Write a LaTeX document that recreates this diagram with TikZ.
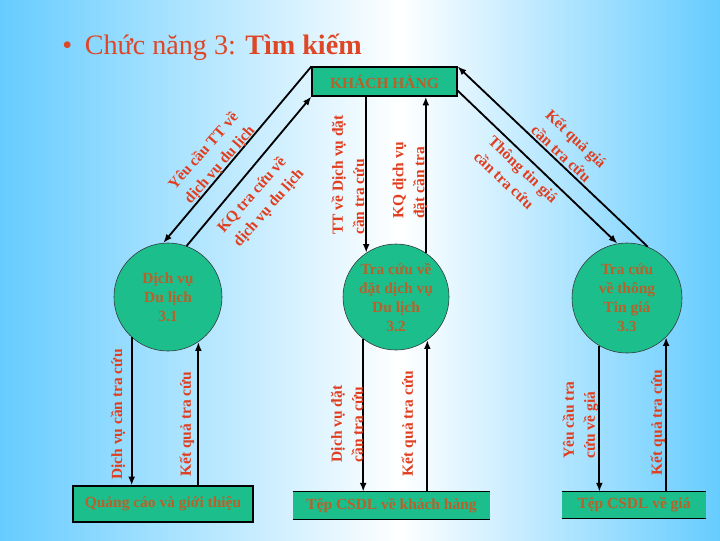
\documentclass[tikz,border=0pt]{standalone}
\usepackage{fontspec}
\setmainfont{Liberation Serif}
\usepackage{xcolor}
\usetikzlibrary{arrows.meta,calc,positioning}
\definecolor{bgblue}{RGB}{102,204,255}
\definecolor{boxgreen}{RGB}{28,190,140}
\definecolor{titlered}{RGB}{222,70,38}
\definecolor{labelred}{RGB}{224,62,30}
\definecolor{textbrown}{RGB}{184,98,42}

\begin{document}
\begin{tikzpicture}[x=0.025cm,y=-0.025cm,>={Latex[length=2.2mm,width=1.7mm]},
  proc/.style={circle,draw=black!80,fill=boxgreen,inner sep=0pt,align=center,
    font=\bfseries\fontsize{11}{13.5}\selectfont,text=textbrown},
  ext/.style={draw=black,fill=boxgreen,thick,inner sep=0pt,
    font=\bfseries\fontsize{11}{13}\selectfont,text=textbrown},
  store/.style={fill=boxgreen,inner sep=0pt,
    font=\bfseries\fontsize{11}{13}\selectfont,text=textbrown},
  flow/.style={line width=1.3pt,->},
  lbl/.style={text=labelred,font=\bfseries\fontsize{11}{15}\selectfont,align=left,inner sep=0pt}]
% ---------- nen ----------
\shade[left color=bgblue,right color=white] (0,0) rectangle (400,540);
\shade[left color=white,right color=bgblue] (400,0) rectangle (720,540);
\useasboundingbox (0,0) rectangle (720,540);
\node[anchor=base west,text=titlered,font=\fontsize{20}{24}\selectfont,inner sep=0pt]
  (title) at (62,54) {\textbullet\hspace{9pt}Chức năng 3: \textbf{Tìm kiếm}};
% ---------- tac nhan, tien trinh, kho ----------
\node[ext,minimum width=3.625cm,minimum height=0.725cm] (khach) at (384.5,81.5) {KHÁCH HÀNG};
\node[proc,minimum size=2.7cm] (p1) at (168,297) {Dịch vụ\\Du lịch\\3.1};
\node[proc,minimum size=2.65cm] (p2) at (396,297) {Tra cứu về\\đặt dịch vụ\\Du lịch\\3.2};
\node[proc,minimum size=2.75cm] (p3) at (627,298) {Tra cứu\\về thông\\Tin giá\\3.3};
\node[ext,minimum width=4.5cm,minimum height=0.9cm] (qc) at (163,504) {Quảng cáo và giới thiệu};
\node[store,minimum width=4.925cm,minimum height=0.675cm] (khdb) at (391.5,505.5) {Tệp CSDL về khách hàng};
\draw[thick] (khdb.north west) -- (khdb.north east) (khdb.south west) -- (khdb.south east);
\node[store,minimum width=3.6cm,minimum height=0.65cm] (giadb) at (634,505) {Tệp CSDL về giá};
\draw[thick] (giadb.north west) -- (giadb.north east) (giadb.south west) -- (giadb.south east);
% ---------- luong du lieu ----------
\draw[flow] (khach.north west) -- (p1.95);
\draw[flow] (p1.70) -- (khach.south west);
\draw[flow] (khach.south -| p2.124) -- (p2.124);
\draw[flow] (p2.56) -- (p2.56 |- khach.south);
\draw[flow] ($(khach.south east)+(0,-6)$) -- (p3.100);
\draw[flow] (p3.68) -- (khach.north east);
\draw[flow] (p1.228) -- (p1.228 |- qc.north);
\draw[flow] (p1.304 |- qc.north) -- (p1.304);
\draw[flow] (p2.232) -- (p2.232 |- khdb.north);
\draw[flow] (p2.306 |- khdb.north) -- (p2.306);
\draw[flow] (p3.240) -- (p3.240 |- giadb.north);
\draw[flow] (p3.315 |- giadb.north) -- (p3.315);
% ---------- nhan ----------
\node[lbl,rotate=48.6] (l1) at (212,158) {Yêu cầu TT về\\dịch vụ du lịch};
\node[lbl,rotate=48.6] (l2) at (261,201) {KQ tra cứu về\\dịch vụ du lịch};
\node[lbl,rotate=90] (l3) at (348,175) {TT về Dịch vụ đặt\\cần tra cứu};
\node[lbl,rotate=90] (l4) at (410,180.5) {KQ dịch vụ\\đặt cần tra};
\node[lbl,rotate=-43.3] (l5) at (516,177) {Thông tin giá\\cần tra cứu};
\node[lbl,rotate=-43.3] (l6) at (569,146) {Kết quả giá\\cần tra cứu};
\node[lbl,rotate=90] (l7) at (118,414.5) {Dịch vụ cần tra cứu};
\node[lbl,rotate=90] (l8) at (187,424) {Kết quả tra cứu};
\node[lbl,rotate=90] (l9) at (347,424) {Dịch vụ đặt\\cần tra cứu};
\node[lbl,rotate=90] (l10) at (409,423.5) {Kết quả tra cứu};
\node[lbl,rotate=90] (l11) at (580.5,420) {Yêu cầu tra\\cứu về giá};
\node[lbl,rotate=90] (l12) at (658,422.5) {Kết quả tra cứu};
\end{tikzpicture}
\end{document}
